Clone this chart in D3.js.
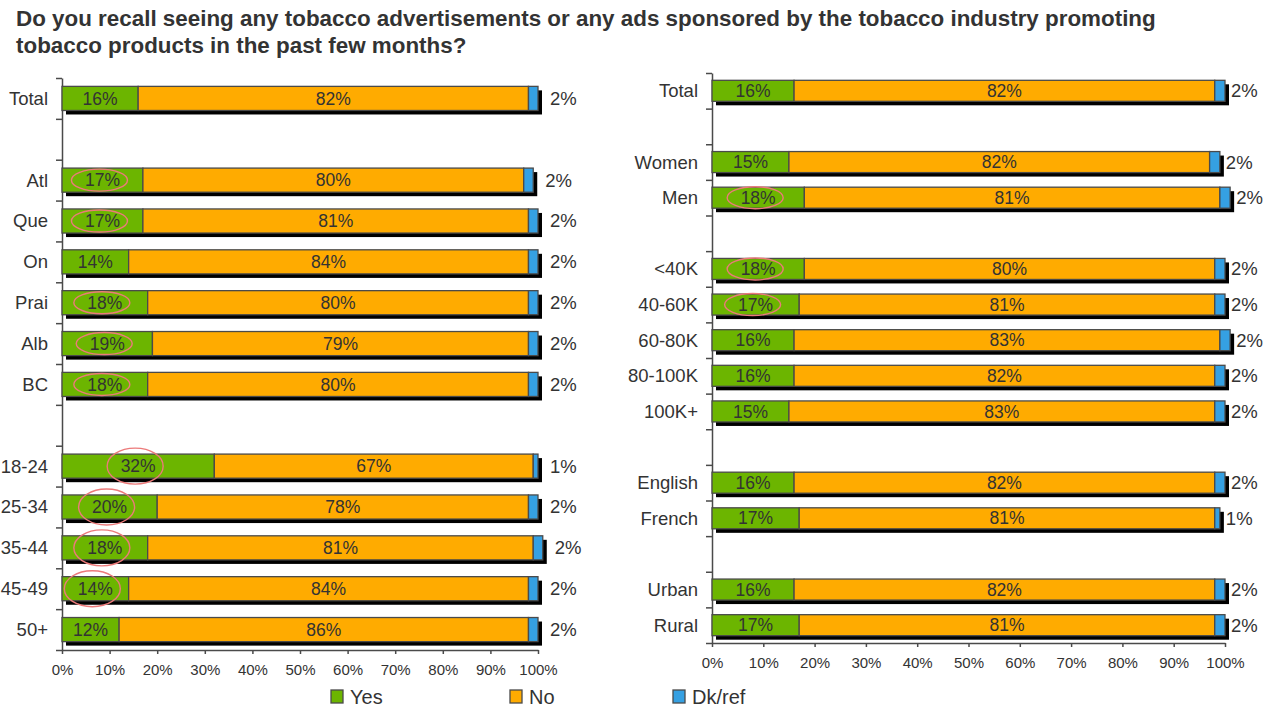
<!DOCTYPE html>
<html>
<head>
<meta charset="utf-8">
<script src="https://cdn.jsdelivr.net/npm/d3@7"></script>
<style>
  html, body { margin: 0; padding: 0; background: #ffffff; }
  svg { display: block; font-family: "Liberation Sans", Arial, sans-serif; }
</style>
</head>
<body>
<svg id="chart" width="1275" height="708"></svg>
<script>
// ---- Data -------------------------------------------------------------
// null entries mark empty spacer rows between groups
const titleLines = [
  "Do you recall seeing any tobacco advertisements or any ads sponsored by the tobacco industry promoting",
  "tobacco products in the past few months?"
];

const seriesNames = ["Yes", "No", "Dk/ref"];

const leftCategories = ["Total", null, "Atl", "Que", "On", "Prai", "Alb", "BC", null,
  "18-24", "25-34", "35-44", "45-49", "50+"];
const leftYes = [16, null, 17, 17, 14, 18, 19, 18, null, 32, 20, 18, 14, 12];
const leftNo  = [82, null, 80, 81, 84, 80, 79, 80, null, 67, 78, 81, 84, 86];
const leftDk  = [2,  null, 2,  2,  2,  2,  2,  2,  null, 1,  2,  2,  2,  2];

const rightCategories = ["Total", null, "Women", "Men", null, "<40K", "40-60K", "60-80K",
  "80-100K", "100K+", null, "English", "French", null, "Urban", "Rural"];
const rightYes = [16, null, 15, 18, null, 18, 17, 16, 16, 15, null, 16, 17, null, 16, 17];
const rightNo  = [82, null, 82, 81, null, 80, 81, 83, 82, 83, null, 82, 81, null, 82, 81];
const rightDk  = [2,  null, 2,  2,  null, 2,  2,  2,  2,  2,  null, 2,  1,  null, 2,  2];

const xTickValues = [0, 10, 20, 30, 40, 50, 60, 70, 80, 90, 100];

// rows whose "Yes" figure is circled
const leftCircled = ["Atl", "Que", "Prai", "Alb", "BC", "18-24", "25-34", "35-44", "45-49"];
const leftTallCircles = ["18-24", "25-34", "35-44", "45-49"];
const rightCircled = ["Men", "<40K", "40-60K"];

// ---- Styling ----------------------------------------------------------
const colors = { Yes: "#6cb500", No: "#ffab00", "Dk/ref": "#35a0e2" };
const textColor = "#333333";
const outline = "#4a4a4a";
const ringColor = "#ec7a7a";

const svg = d3.select("#chart");

// Title
svg.append("g").selectAll("text")
  .data(titleLines)
  .join("text")
  .attr("x", 16)
  .attr("y", (d, i) => 26 + i * 27)
  .attr("font-size", 22.4)
  .attr("font-weight", "bold")
  .attr("fill", textColor)
  .text(d => d);

function drawPanel(opts) {
  const { categories, yes, no, dk, x0, x1, y0, y1, dkGap, circled, tall } = opts;
  const n = categories.length;
  const rows = categories.map((c, i) => ({ i, cat: c, yes: yes[i], no: no[i], dk: dk[i] }))
    .filter(r => r.cat !== null);

  const x = d3.scaleLinear().domain([0, 100]).range([x0, x1]);
  const band = d3.scaleBand().domain(d3.range(n)).range([y0, y1]).paddingInner(0.41).paddingOuter(0.205);
  const yLin = d3.scaleLinear().domain([0, n]).range([y0, y1]);

  const g = svg.append("g");

  // Y axis: a tick at every row boundary
  const yAxis = g.append("g")
    .attr("transform", `translate(${x0},0)`)
    .call(d3.axisLeft(yLin).tickValues(d3.range(n + 1)).tickSize(6).tickSizeOuter(0).tickFormat(""));
  yAxis.select(".domain").attr("stroke", outline).attr("stroke-width", 1.5);
  yAxis.selectAll(".tick line").attr("stroke", outline).attr("stroke-width", 1.5);

  // X axis
  const xAxis = g.append("g")
    .attr("transform", `translate(0,${y1})`)
    .call(d3.axisBottom(x).tickValues(xTickValues).tickSize(4).tickSizeOuter(0)
      .tickFormat(d => d + "%"));
  xAxis.select(".domain").attr("stroke", outline).attr("stroke-width", 1.5);
  xAxis.selectAll(".tick line").attr("stroke", outline).attr("stroke-width", 1.5);
  xAxis.selectAll(".tick text")
    .attr("font-family", "'Liberation Sans', Arial, sans-serif")
    .attr("font-size", 15).attr("fill", textColor).attr("dy", "0.71em").attr("y", 14);

  // Category labels
  g.append("g").selectAll("text")
    .data(rows)
    .join("text")
    .attr("x", x0 - 14)
    .attr("y", d => band(d.i) + band.bandwidth() / 2)
    .attr("dy", "0.35em")
    .attr("text-anchor", "end")
    .attr("font-size", 18.5)
    .attr("fill", textColor)
    .text(d => d.cat);

  // Drop shadows
  g.append("g").selectAll("rect")
    .data(rows)
    .join("rect")
    .attr("x", x(0) + 4)
    .attr("y", d => band(d.i) + 4)
    .attr("width", d => x(d.yes + d.no + d.dk) - x(0))
    .attr("height", band.bandwidth())
    .attr("fill", "#000");

  // Stacked segments
  const stack = d3.stack().keys(seriesNames)
    .value((d, k) => k === "Yes" ? d.yes : k === "No" ? d.no : d.dk);
  const layers = stack(rows);
  g.append("g").selectAll("g")
    .data(layers)
    .join("g")
    .attr("fill", d => colors[d.key])
    .selectAll("rect")
    .data(d => d)
    .join("rect")
    .attr("x", d => x(d[0]))
    .attr("y", d => band(d.data.i))
    .attr("width", d => x(d[1]) - x(d[0]))
    .attr("height", band.bandwidth())
    .attr("stroke", outline)
    .attr("stroke-width", 1.3);

  // Value labels inside Yes / No
  const inner = layers.slice(0, 2);
  g.append("g").selectAll("g")
    .data(inner)
    .join("g")
    .selectAll("text")
    .data(d => d)
    .join("text")
    .attr("x", d => (x(d[0]) + x(d[1])) / 2)
    .attr("y", d => band(d.data.i) + band.bandwidth() / 2)
    .attr("dy", "0.35em")
    .attr("text-anchor", "middle")
    .attr("font-size", 17.5)
    .attr("fill", textColor)
    .text(d => (d[1] - d[0]) + "%");

  // Dk/ref labels to the right of each bar
  g.append("g").selectAll("text")
    .data(layers[2])
    .join("text")
    .attr("x", d => x(d[1]) + dkGap)
    .attr("y", d => band(d.data.i) + band.bandwidth() / 2)
    .attr("dy", "0.35em")
    .attr("font-size", 18.5)
    .attr("fill", textColor)
    .text(d => (d[1] - d[0]) + "%");

  // Highlight rings around selected Yes figures
  g.append("g").selectAll("ellipse")
    .data(layers[0].filter(d => circled.includes(d.data.cat)))
    .join("ellipse")
    .attr("cx", d => (x(d[0]) + x(d[1])) / 2 - 3)
    .attr("cy", d => band(d.data.i) + band.bandwidth() / 2)
    .attr("rx", 28)
    .attr("ry", d => tall.includes(d.data.cat) ? 18 : 11)
    .attr("fill", "none")
    .attr("stroke", ringColor)
    .attr("stroke-width", 1.4);
}

drawPanel({
  categories: leftCategories, yes: leftYes, no: leftNo, dk: leftDk,
  x0: 62, x1: 538, y0: 78, y1: 650, dkGap: 12,
  circled: leftCircled, tall: leftTallCircles
});

drawPanel({
  categories: rightCategories, yes: rightYes, no: rightNo, dk: rightDk,
  x0: 712, x1: 1225, y0: 73, y1: 643, dkGap: 6,
  circled: rightCircled, tall: []
});

// Legend
const legendX = [331, 510, 673];
const legend = svg.append("g").selectAll("g")
  .data(seriesNames)
  .join("g")
  .attr("transform", (d, i) => `translate(${legendX[i]},690)`);
legend.append("rect")
  .attr("width", 12).attr("height", 13)
  .attr("fill", d => colors[d])
  .attr("stroke", outline).attr("stroke-width", 1.3);
legend.append("text")
  .attr("x", 19).attr("y", 7).attr("dy", "0.35em")
  .attr("font-size", 20).attr("fill", textColor)
  .text(d => d);
</script>
</body>
</html>
